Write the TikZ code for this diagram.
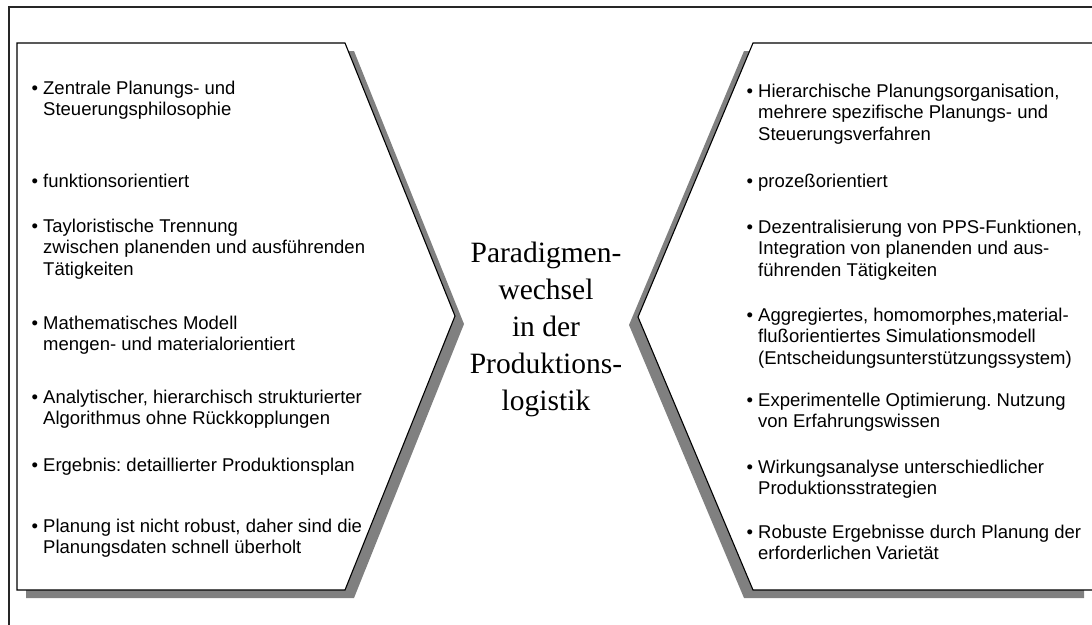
\documentclass[tikz,border=0pt]{standalone}
\usepackage{fontspec}
\setmainfont{Liberation Sans}
\newfontfamily\centerserif{Liberation Serif}
\definecolor{shadowgray}{HTML}{808080}
\newcommand\bul{\llap{•\hspace{5pt}}}
\newcommand\bitem[1]{\begin{tabular}[t]{@{}l@{}}#1\end{tabular}}
\frenchspacing
\begin{document}
\begin{tikzpicture}[x=1pt,y=-1pt,
  shp/.style={draw=black,line width=1.1pt,fill=white,line join=miter},
  shd/.style={fill=shadowgray,draw=none},
  item/.style={anchor=base west,inner sep=0pt,font=\fontsize{18.5}{21.5}\selectfont},
  title/.style={anchor=base,inner sep=0pt,font=\centerserif\fontsize{29.5}{37}\selectfont}]
\useasboundingbox (0,0) rectangle (1092,624);
\begin{scope}
\clip (0,0) rectangle (1092,624);
% outer frame
\draw[line width=1.2pt,black!85] (9,640) -- (9,7) -- (1110,7);
% left shape
\path[shd,shift={(9,8)}] (17,43) -- (345,43) -- (455,316) -- (345,590) -- (17,590) -- cycle;
\path[shp] (17,43) -- (345,43) -- (455,316) -- (345,590) -- (17,590) -- cycle;
% right shape
\path[shd,shift={(-9,8)}] (753,43) -- (1093,43) -- (1093,590) -- (753,590) -- (638,317) -- cycle;
\path[shp] (753,43) -- (1093,43) -- (1093,590) -- (753,590) -- (638,317) -- cycle;
\end{scope}
% centre text
\node[title] (mid) at (546,262) {\begin{tabular}[t]{@{}c@{}}Paradigmen-\\wechsel\\in der\\Produktions-\\logistik\end{tabular}};
% left items
\node[item] (l1) at (43,94) {\bitem{\bul Zentrale Planungs- und\\Steuerungsphilosophie}};
\node[item] (l2) at (43,187) {\bitem{\bul funktionsorientiert}};
\node[item] (l3) at (43,232) {\bitem{\bul Tayloristische Trennung\\zwischen planenden und ausführenden\\Tätigkeiten}};
\node[item] (l4) at (43,329) {\bitem{\bul Mathematisches Modell\\mengen- und materialorientiert}};
\node[item] (l5) at (43,403) {\bitem{\bul Analytischer, hierarchisch strukturierter\\Algorithmus ohne Rückkopplungen}};
\node[item] (l6) at (43,471) {\bitem{\bul Ergebnis: detaillierter Produktionsplan}};
\node[item] (l7) at (43,532) {\bitem{\bul Planung ist nicht robust, daher sind die\\Planungsdaten schnell überholt}};
% right items
\node[item] (r1) at (758,97) {\bitem{\bul Hierarchische Planungsorganisation,\\mehrere spezifische Planungs- und\\Steuerungsverfahren}};
\node[item] (r2) at (758,187) {\bitem{\bul prozeßorientiert}};
\node[item] (r3) at (758,233) {\bitem{\bul Dezentralisierung von PPS-Funktionen,\\Integration von planenden und aus-\\führenden Tätigkeiten}};
\node[item] (r4) at (758,321) {\bitem{\bul Aggregiertes, homomorphes,material-\\flußorientiertes Simulationsmodell\\(Entscheidungsunterstützungssystem)}};
\node[item] (r5) at (758,406) {\bitem{\bul Experimentelle Optimierung. Nutzung\\von Erfahrungswissen}};
\node[item] (r6) at (758,473) {\bitem{\bul Wirkungsanalyse unterschiedlicher\\Produktionsstrategien}};
\node[item] (r7) at (758,538) {\bitem{\bul Robuste Ergebnisse durch Planung der\\erforderlichen Varietät}};
\end{tikzpicture}
\end{document}
